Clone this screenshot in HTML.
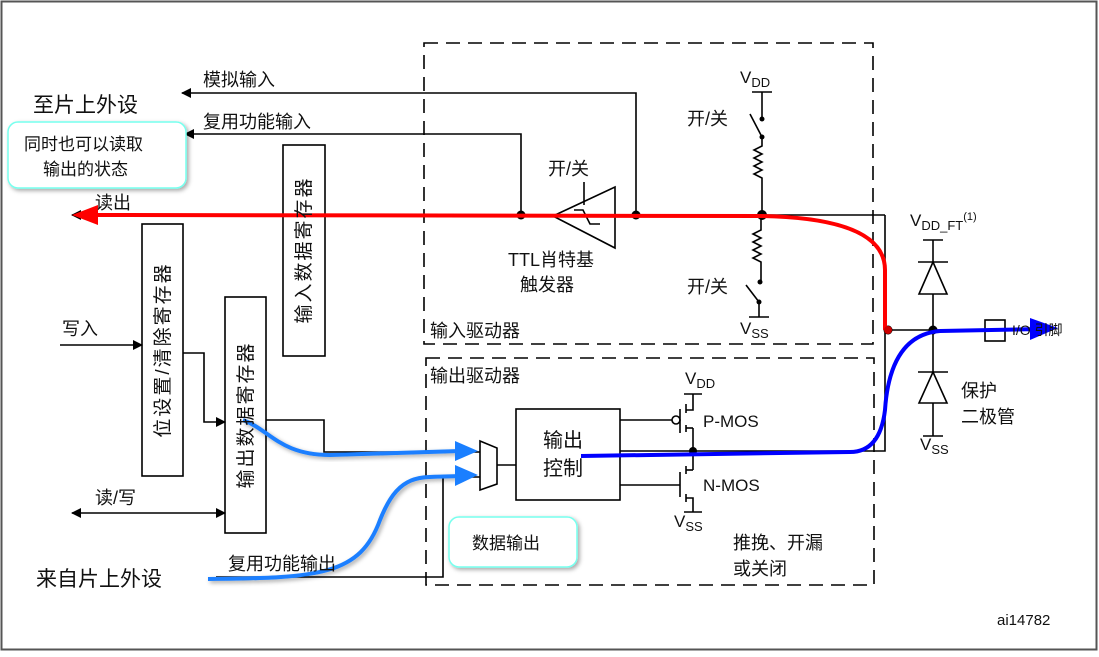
<!DOCTYPE html>
<html><head><meta charset="utf-8"><style>
html,body{margin:0;padding:0;background:#fff}
svg text{font-family:"Liberation Sans","Noto Sans CJK SC",sans-serif;fill:#111}
</style></head><body>
<svg width="1099" height="652" viewBox="0 0 1099 652" xmlns="http://www.w3.org/2000/svg">
<defs>
<marker id="ab" markerWidth="10" markerHeight="10" refX="9" refY="5" orient="auto" markerUnits="userSpaceOnUse"><path d="M0,0 L10,5 L0,10 z" fill="#000"/></marker>
<marker id="abs" markerWidth="10" markerHeight="10" refX="1" refY="5" orient="auto" markerUnits="userSpaceOnUse"><path d="M10,0 L0,5 L10,10 z" fill="#000"/></marker>
<filter id="sh" x="-20%" y="-20%" width="140%" height="140%"><feDropShadow dx="2" dy="2" stdDeviation="2" flood-color="#000" flood-opacity="0.35"/></filter>
</defs>
<rect x="1.5" y="1.5" width="1095" height="648" fill="#fff" stroke="#555" stroke-width="2"/>
<g fill="none" stroke="#000" stroke-width="1.6" stroke-dasharray="14,8">
<rect x="424" y="43" width="449" height="301"/>
<rect x="426" y="358" width="448" height="227"/>
</g>
<g fill="none" stroke="#000" stroke-width="1.6">
<polyline points="636,215 636,93 182,93" marker-end="url(#ab)"/>
<polyline points="521,215 521,134 185,134" marker-end="url(#ab)"/>
<line x1="885" y1="215" x2="72" y2="215" marker-end="url(#ab)"/>
<polyline points="885,215 885,451 620,451"/>
<polygon points="553,216 615,187 615,248"/>
<line x1="584" y1="182" x2="584" y2="205"/>
<polyline points="574,210 583,210 590,224 600,224"/>
<line x1="752" y1="92" x2="772" y2="92"/><line x1="762" y1="92" x2="762" y2="119"/>
<line x1="750" y1="114" x2="762" y2="137"/>
<polyline points="762,137 762,146 754,150 762,154 754,158 762,162 754,166 762,170 754,174 762,178 762,215"/>
<polyline points="761,215 761,230 753,234 761,238 753,242 761,246 753,250 761,254 753,258 761,262 761,282"/>
<line x1="746" y1="285" x2="759" y2="302"/>
<line x1="759" y1="302" x2="759" y2="317"/><line x1="749" y1="317" x2="769" y2="317"/>
<line x1="888" y1="330" x2="985" y2="330"/>
<rect x="985" y="320" width="20" height="21"/>
<line x1="923" y1="240" x2="943" y2="240"/><line x1="933" y1="240" x2="933" y2="262"/>
<line x1="918" y1="262" x2="948" y2="262"/><polygon points="933,262 919,294 947,294"/>
<line x1="933" y1="294" x2="933" y2="372"/>
<line x1="918" y1="372" x2="948" y2="372"/><polygon points="933,372 919,403 947,403"/>
<line x1="933" y1="403" x2="933" y2="436"/><line x1="923" y1="436" x2="943" y2="436"/>
<rect x="142" y="224" width="41" height="252"/>
<rect x="225" y="297" width="41" height="236"/>
<rect x="283" y="145" width="42" height="211"/>
<line x1="60" y1="345" x2="142" y2="345" marker-end="url(#ab)"/>
<polyline points="183,353 204,353 204,422 225,422" marker-end="url(#ab)"/>
<line x1="72" y1="513" x2="225" y2="513" marker-start="url(#abs)" marker-end="url(#ab)"/>
<polyline points="266,420 324,420 324,452 480,452"/>
<polyline points="216,577 443,577 443,477 480,477"/>
<polygon points="480,441 497,448 497,484 480,490"/>
<line x1="497" y1="465" x2="516" y2="465"/>
<rect x="516" y="409" width="104" height="91"/>
<line x1="620" y1="420" x2="672" y2="420"/><circle cx="676" cy="420" r="4"/>
<line x1="680" y1="409" x2="680" y2="433"/>
<polyline points="686,410 693,410 693,394"/><line x1="684" y1="394" x2="702" y2="394"/>
<line x1="686" y1="428" x2="693" y2="428"/><line x1="693" y1="428" x2="693" y2="451"/>
<line x1="620" y1="485" x2="680" y2="485"/>
<line x1="680" y1="472" x2="680" y2="497"/>
<line x1="686" y1="470" x2="693" y2="470"/><line x1="693" y1="451" x2="693" y2="470"/>
<polyline points="686,498 693,498 693,512"/><line x1="684" y1="512" x2="702" y2="512"/>
<line x1="686" y1="404" x2="686" y2="413"/>
<line x1="686" y1="425" x2="686" y2="432"/>
<line x1="686" y1="466" x2="686" y2="474"/>
<line x1="686" y1="494" x2="686" y2="502"/>
</g>
<g fill="#000">
<circle cx="521" cy="215" r="4.5"/><circle cx="636" cy="215" r="4.5"/><circle cx="762" cy="215" r="5"/>
<circle cx="762" cy="119" r="2.5"/><circle cx="762" cy="137" r="2.5"/><circle cx="760" cy="282" r="2.5"/><circle cx="759" cy="302" r="2.5"/>
<circle cx="888" cy="330" r="4.5"/><circle cx="933" cy="330" r="4.5"/><circle cx="693" cy="451" r="4"/>
</g>
<path d="M885,330 L885,270 Q885,218 760,216 L90,215" fill="none" stroke="#f00" stroke-width="4"/>
<path d="M72,215 L98,205 L98,225 z" fill="#f00"/>
<circle cx="888" cy="330" r="4" fill="#c00"/>
<path d="M581,456 L850,452 Q880,452 885,410 Q890,335 940,331 L1040,329" fill="none" stroke="#00f" stroke-width="4"/>
<path d="M1058,328 L1030,318 L1030,340 z" fill="#00f"/>
<path d="M243,420 C270,430 280,455 330,455 L460,451" fill="none" stroke="#1a7fff" stroke-width="4" filter="url(#sh)"/>
<path d="M478,451 L455,441 L455,461 z" fill="#1a7fff"/>
<path d="M208,579 C320,578 360,575 380,520 C400,470 420,478 460,476" fill="none" stroke="#1a7fff" stroke-width="4" filter="url(#sh)"/>
<path d="M478,475 L455,465 L455,486 z" fill="#1a7fff"/>
<rect x="8" y="122" width="178" height="66" rx="10" fill="#fff" stroke="#7fe" stroke-width="1.5" filter="url(#sh)"/>
<rect x="449" y="517" width="128" height="50" rx="10" fill="#fff" stroke="#7fe" stroke-width="1.5" filter="url(#sh)"/>
<g font-size="18">
<text x="203" y="86">模拟输入</text>
<text x="203" y="128">复用功能输入</text>
<text x="33" y="112" font-size="21">至片上外设</text>
<text x="95" y="209">读出</text>
<text x="62" y="335">写入</text>
<text x="95" y="504">读/写</text>
<text x="36" y="586" font-size="21">来自片上外设</text>
<text x="228" y="570">复用功能输出</text>
<text x="548" y="175">开/关</text>
<text x="508" y="266">TTL肖特基</text>
<text x="520" y="291">触发器</text>
<text x="687" y="125">开/关</text>
<text x="687" y="293">开/关</text>
<text x="430" y="337">输入驱动器</text>
<text x="430" y="382">输出驱动器</text>
<text x="543" y="447" font-size="20">输出</text>
<text x="543" y="475" font-size="20">控制</text>
<text x="961" y="397">保护</text>
<text x="961" y="423">二极管</text>
<text x="733" y="549">推挽、开漏</text>
<text x="733" y="575">或关闭</text>
<text x="24" y="150" font-size="17">同时也可以读取</text>
<text x="43" y="175" font-size="17">输出的状态</text>
<text x="472" y="549" font-size="17">数据输出</text>
</g>
<g font-size="17">
<text x="740" y="83">V<tspan font-size="13" dy="4">DD</tspan></text>
<text x="740" y="334">V<tspan font-size="13" dy="4">SS</tspan></text>
<text x="910" y="226">V<tspan font-size="13" dy="4">DD_FT</tspan><tspan font-size="11" dy="-10">(1)</tspan></text>
<text x="920" y="450">V<tspan font-size="13" dy="4">SS</tspan></text>
<text x="685" y="384">V<tspan font-size="13" dy="4">DD</tspan></text>
<text x="674" y="527">V<tspan font-size="13" dy="4">SS</tspan></text>
<text x="703" y="427">P-MOS</text>
<text x="703" y="491">N-MOS</text>
<text x="1012" y="335" font-size="14">I/O 引脚</text>
<text x="997" y="625" font-size="15">ai14782</text>
</g>
<g font-size="19">
<text transform="translate(169,350) rotate(-90)" text-anchor="middle" letter-spacing="2">位设置/清除寄存器</text>
<text transform="translate(252,415) rotate(-90)" text-anchor="middle" letter-spacing="2">输出数据寄存器</text>
<text transform="translate(310,250) rotate(-90)" text-anchor="middle" letter-spacing="2">输入数据寄存器</text>
</g>
</svg>
</body></html>
